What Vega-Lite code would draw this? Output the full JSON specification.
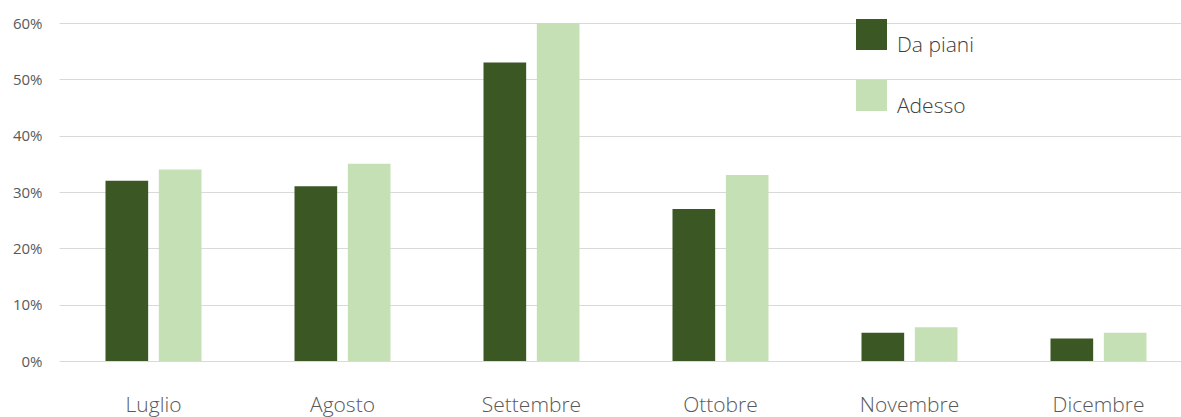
{
  "$schema": "https://vega.github.io/schema/vega-lite/v6.json",
  "autosize": {"type": "none"},
  "width": 1134,
  "height": 338,
  "padding": {"left": 59, "top": 23, "right": 0, "bottom": 56},
  "background": "white",
  "data": {
    "values": [
      {"mese": "Luglio", "serie": "Da piani", "valore": 0.32},
      {"mese": "Luglio", "serie": "Adesso", "valore": 0.34},
      {"mese": "Agosto", "serie": "Da piani", "valore": 0.31},
      {"mese": "Agosto", "serie": "Adesso", "valore": 0.35},
      {"mese": "Settembre", "serie": "Da piani", "valore": 0.53},
      {"mese": "Settembre", "serie": "Adesso", "valore": 0.60},
      {"mese": "Ottobre", "serie": "Da piani", "valore": 0.27},
      {"mese": "Ottobre", "serie": "Adesso", "valore": 0.33},
      {"mese": "Novembre", "serie": "Da piani", "valore": 0.05},
      {"mese": "Novembre", "serie": "Adesso", "valore": 0.06},
      {"mese": "Dicembre", "serie": "Da piani", "valore": 0.04},
      {"mese": "Dicembre", "serie": "Adesso", "valore": 0.05}
    ]
  },
  "mark": {"type": "bar"},
  "encoding": {
    "x": {
      "field": "mese", "type": "nominal", "sort": null,
      "scale": {"paddingInner": 0.492, "paddingOuter": 0.246},
      "axis": {"title": null, "labelAngle": 0, "domain": false, "ticks": false, "labelPadding": 33, "labelFontSize": 21, "labelColor": "#595959", "labelFont": "Open Sans", "labelFontWeight": 300}
    },
    "xOffset": {"field": "serie", "sort": ["Da piani", "Adesso"], "scale": {"paddingInner": 0.2, "paddingOuter": 0}},
    "y": {
      "field": "valore", "type": "quantitative",
      "scale": {"domain": [0, 0.6]},
      "axis": {"title": null, "values": [0, 0.1, 0.2, 0.3, 0.4, 0.5, 0.6], "format": ".0%", "domain": false, "ticks": false, "labelPadding": 17, "labelFontSize": 15, "labelColor": "#595959", "labelFont": "Open Sans", "gridColor": "#d9d9d9", "gridWidth": 1}
    },
    "color": {
      "field": "serie", "type": "nominal",
      "scale": {"domain": ["Da piani", "Adesso"], "range": ["#3a5724", "#c5e0b4"]},
      "legend": {"title": null, "orient": "none", "legendX": 797, "legendY": -4, "symbolType": "square", "symbolSize": 961, "symbolStrokeWidth": 0, "labelFontSize": 21, "labelColor": "#404040", "labelFont": "Open Sans", "labelFontWeight": 300, "labelBaseline": "top", "rowPadding": 24, "labelOffset": 10}
    }
  },
  "config": {"view": {"stroke": null}}
}
